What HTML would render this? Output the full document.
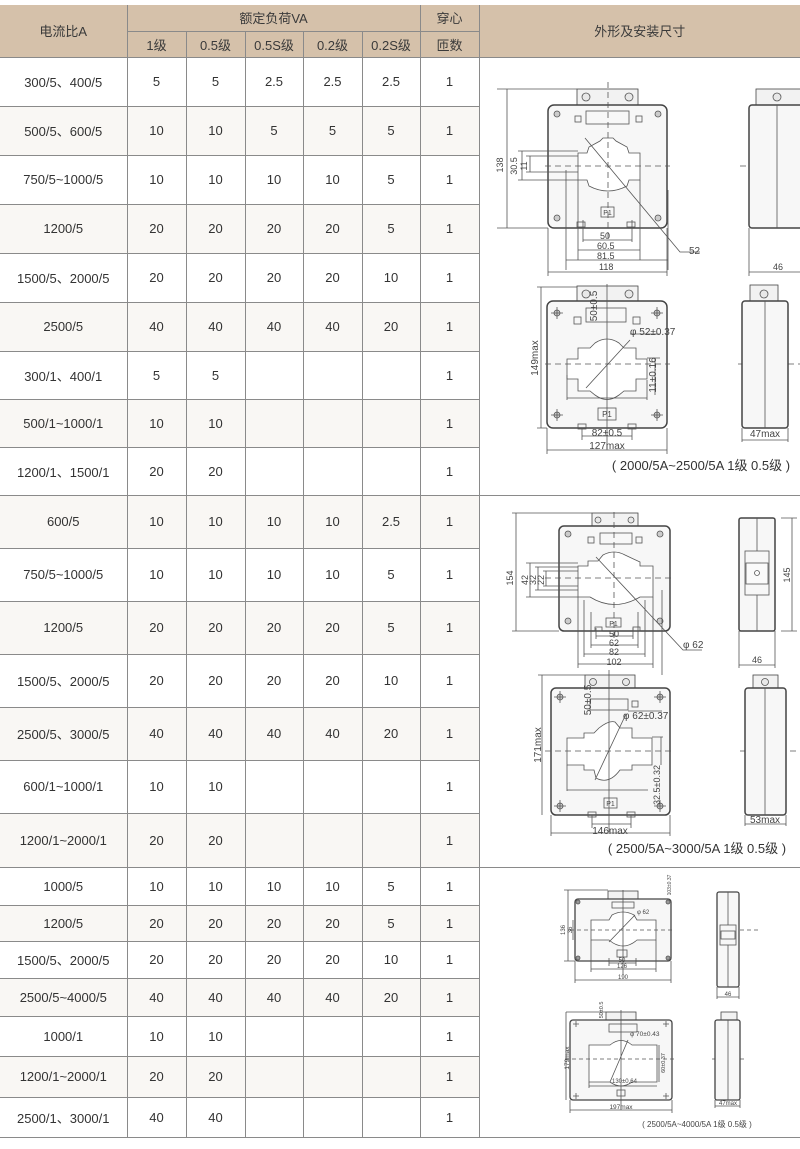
<!DOCTYPE html>
<html><head><meta charset="utf-8">
<style>
html,body{margin:0;padding:0;background:#fff;}
body{width:800px;height:1149px;position:relative;overflow:hidden;font-family:"Liberation Sans","Noto Sans CJK SC",sans-serif;color:#333;}
table{position:absolute;left:0;top:5px;border-collapse:collapse;table-layout:fixed;width:800px;font-size:13px;}
td{border:1px solid #8a8a8a;text-align:center;vertical-align:middle;padding:0;}
tr td:first-child{border-left:none;}
td.r{border-right:none;}
thead td{background:#d5c1aa;color:#3a3a3a;}
tbody tr:nth-child(even) td{background:#f9f7f4;}
tbody tr td.r{background:#fff !important;}
svg{position:absolute;left:0;top:0;}
</style></head><body>
<table>
<colgroup><col style="width:127px"><col style="width:59px"><col style="width:59px"><col style="width:58px"><col style="width:59px"><col style="width:58px"><col style="width:59px"><col style="width:321px"></colgroup>
<thead>
<tr style="height:26px"><td rowspan="2" style="border-top:none">电流比A</td><td colspan="5" style="border-top:none">额定负荷VA</td><td style="border-top:none">穿心</td><td rowspan="2" class="r" style="border-top:none;background:#d5c1aa">外形及安装尺寸</td></tr>
<tr style="height:26px"><td>1级</td><td>0.5级</td><td>0.5S级</td><td>0.2级</td><td>0.2S级</td><td>匝数</td></tr>
</thead>
<tbody>
<tr style="height:49px"><td>300/5、400/5</td><td>5</td><td>5</td><td>2.5</td><td>2.5</td><td>2.5</td><td>1</td><td rowspan="9" class="r"></td></tr>
<tr style="height:49px"><td>500/5、600/5</td><td>10</td><td>10</td><td>5</td><td>5</td><td>5</td><td>1</td></tr>
<tr style="height:49px"><td>750/5~1000/5</td><td>10</td><td>10</td><td>10</td><td>10</td><td>5</td><td>1</td></tr>
<tr style="height:49px"><td>1200/5</td><td>20</td><td>20</td><td>20</td><td>20</td><td>5</td><td>1</td></tr>
<tr style="height:49px"><td>1500/5、2000/5</td><td>20</td><td>20</td><td>20</td><td>20</td><td>10</td><td>1</td></tr>
<tr style="height:49px"><td>2500/5</td><td>40</td><td>40</td><td>40</td><td>40</td><td>20</td><td>1</td></tr>
<tr style="height:48px"><td>300/1、400/1</td><td>5</td><td>5</td><td></td><td></td><td></td><td>1</td></tr>
<tr style="height:48px"><td>500/1~1000/1</td><td>10</td><td>10</td><td></td><td></td><td></td><td>1</td></tr>
<tr style="height:48px"><td>1200/1、1500/1</td><td>20</td><td>20</td><td></td><td></td><td></td><td>1</td></tr>
<tr style="height:53px"><td>600/5</td><td>10</td><td>10</td><td>10</td><td>10</td><td>2.5</td><td>1</td><td rowspan="7" class="r"></td></tr>
<tr style="height:53px"><td>750/5~1000/5</td><td>10</td><td>10</td><td>10</td><td>10</td><td>5</td><td>1</td></tr>
<tr style="height:53px"><td>1200/5</td><td>20</td><td>20</td><td>20</td><td>20</td><td>5</td><td>1</td></tr>
<tr style="height:53px"><td>1500/5、2000/5</td><td>20</td><td>20</td><td>20</td><td>20</td><td>10</td><td>1</td></tr>
<tr style="height:53px"><td>2500/5、3000/5</td><td>40</td><td>40</td><td>40</td><td>40</td><td>20</td><td>1</td></tr>
<tr style="height:53px"><td>600/1~1000/1</td><td>10</td><td>10</td><td></td><td></td><td></td><td>1</td></tr>
<tr style="height:54px"><td>1200/1~2000/1</td><td>20</td><td>20</td><td></td><td></td><td></td><td>1</td></tr>
<tr style="height:38px"><td>1000/5</td><td>10</td><td>10</td><td>10</td><td>10</td><td>5</td><td>1</td><td rowspan="7" class="r"></td></tr>
<tr style="height:36px"><td>1200/5</td><td>20</td><td>20</td><td>20</td><td>20</td><td>5</td><td>1</td></tr>
<tr style="height:37px"><td>1500/5、2000/5</td><td>20</td><td>20</td><td>20</td><td>20</td><td>10</td><td>1</td></tr>
<tr style="height:38px"><td>2500/5~4000/5</td><td>40</td><td>40</td><td>40</td><td>40</td><td>20</td><td>1</td></tr>
<tr style="height:40px"><td>1000/1</td><td>10</td><td>10</td><td></td><td></td><td></td><td>1</td></tr>
<tr style="height:41px"><td>1200/1~2000/1</td><td>20</td><td>20</td><td></td><td></td><td></td><td>1</td></tr>
<tr style="height:40px"><td>2500/1、3000/1</td><td>40</td><td>40</td><td></td><td></td><td></td><td>1</td></tr>
</tbody>
</table>

<svg width="800" height="1149" viewBox="0 0 800 1149" font-family="Liberation Sans, Noto Sans CJK SC, sans-serif" fill="none" stroke="#555" stroke-width="0.8">
<!-- ===== Drawing 1 ===== -->
<g>
<rect x="577" y="89" width="61" height="16" fill="#f2f2f2" stroke="#444"/>
<circle cx="586" cy="97" r="4" fill="#e8e8e8"/><circle cx="629" cy="97" r="4" fill="#e8e8e8"/>
<rect x="548" y="105" width="119" height="123" rx="6" fill="#f7f7f7" stroke="#444" stroke-width="1.5"/>
<circle cx="557" cy="114" r="3" fill="#ccc"/><circle cx="658" cy="114" r="3" fill="#ccc"/><circle cx="557" cy="218" r="3" fill="#ccc"/><circle cx="658" cy="218" r="3" fill="#ccc"/>
<rect x="586" y="111" width="43" height="13"/>
<rect x="575" y="116" width="6" height="6"/><rect x="636" y="116" width="6" height="6"/>
<path d="M578,153 H587 L589,147 L600,141 L603,138 H613 L616,141 L627,147 L629,153 H640 V180 H629 L627,186 Q608,196 589,186 L587,180 H578 Z" fill="#fff"/>
<rect x="601" y="207" width="13" height="10"/>
<text x="607.5" y="215" font-size="7" fill="#444" stroke="none" text-anchor="middle">P1</text>
<rect x="577" y="222" width="8" height="5"/><rect x="627" y="222" width="8" height="5"/>
<path d="M608,82 V240 M545,166 H670 M740,166 H800" stroke-dasharray="6,4"/>
<path d="M497,89 H577 M497,228 H548 M507,89 V228 M518,151 H578 M518,180 H578 M526,156 H578 M526,172 H578 M522,151 V180 M530,156 V172"/>
<path d="M578,180 V260 M640,180 V260 M566,170 V270 M668,190 V270 M583,220 V242 M632,220 V242 M548,228 V276 M667,228 V276"/>
<path d="M583,240 H632 M578,250 H640 M566,260 H668 M548,272 H667"/>
<path d="M585,138 L680,252 H700"/>
<g fill="#444" stroke="none" font-size="9">
<text x="600" y="239">50</text><text x="597" y="249">60.5</text><text x="597" y="259">81.5</text><text x="599" y="270">118</text>
<text x="689" y="254" font-size="10">52</text>
<text transform="translate(503,165) rotate(-90)" text-anchor="middle">138</text>
<text transform="translate(517,166) rotate(-90)" text-anchor="middle">30.5</text>
<text transform="translate(527,166) rotate(-90)" text-anchor="middle">11</text>
</g>
<rect x="756" y="89" width="50" height="16" fill="#f2f2f2" stroke="#444"/>
<circle cx="777" cy="97" r="4" fill="#e8e8e8"/>
<rect x="749" y="105" width="60" height="123" rx="3" fill="#f7f7f7" stroke="#444" stroke-width="1.5"/>
<path d="M777,105 V228 M749,228 V276 M749,272 H800"/>
<text x="773" y="270" font-size="9" fill="#444" stroke="none">46</text>
</g>

<!-- ===== Drawing 2 ===== -->
<g>
<rect x="577" y="286" width="61" height="15" fill="#f2f2f2" stroke="#444"/>
<circle cx="586" cy="294" r="4" fill="#e8e8e8"/><circle cx="629" cy="294" r="4" fill="#e8e8e8"/>
<rect x="547" y="301" width="120" height="127" rx="6" fill="#f7f7f7" stroke="#444" stroke-width="1.5"/>
<g><circle cx="557" cy="313" r="3" fill="#ccc"/><circle cx="657" cy="313" r="3" fill="#ccc"/><circle cx="557" cy="415" r="3" fill="#ccc"/><circle cx="657" cy="415" r="3" fill="#ccc"/>
<path d="M551,313 H563 M557,307 V319 M651,313 H663 M657,307 V319 M551,415 H563 M557,409 V421 M651,415 H663 M657,409 V421"/></g>
<rect x="586" y="308" width="40" height="14"/>
<rect x="574" y="317" width="7" height="7"/><rect x="633" y="317" width="7" height="7"/>
<path d="M567,359 H578 V348 H590 L595,343 Q607,335 619,343 L624,348 H636 V359 H647 V379 H636 V391 H624 L619,395 Q607,404 595,395 L590,391 H578 V379 H567 Z" fill="#fff"/>
<path d="M607,284 V450"/>
<path d="M545,364 H670 M738,364 H800" stroke-dasharray="6,4"/>
<path d="M586,388 L630,340 M630,334 H660 M655,358 V395 M647,358 H660 M567,375 V400 M567,398 H647 M647,380 V400"/>
<rect x="598" y="408" width="18" height="12"/>
<text x="607" y="417" font-size="8" fill="#444" stroke="none" text-anchor="middle">P1</text>
<rect x="578" y="424" width="8" height="5"/><rect x="628" y="424" width="8" height="5"/>
<path d="M541,287 V428 M537,287 H577 M537,428 H547 M582,428 V440 M632,428 V440 M582,436 H632 M547,428 V454 M667,428 V454 M547,450 H667"/>
<g fill="#444" stroke="none" font-size="10">
<text x="607" y="436" text-anchor="middle">82±0.5</text>
<text x="607" y="449" text-anchor="middle">127max</text>
<text x="630" y="335">φ 52±0.37</text>
<text transform="translate(538,358) rotate(-90)" text-anchor="middle">149max</text>
<text transform="translate(597,306) rotate(-90)" text-anchor="middle">50±0.5</text>
<text transform="translate(656,375) rotate(-90)" text-anchor="middle">11±0.16</text>
</g>
<rect x="750" y="285" width="28" height="16" fill="#f2f2f2" stroke="#444"/>
<circle cx="764" cy="294" r="4" fill="#e8e8e8"/>
<rect x="742" y="301" width="46" height="127" rx="3" fill="#f7f7f7" stroke="#444" stroke-width="1.5"/>
<path d="M765,301 V428 M742,428 V442 M788,428 V442 M742,440 H788"/>
<text x="765" y="437" font-size="10" fill="#444" stroke="none" text-anchor="middle">47max</text>
<text x="701" y="470" font-size="13" fill="#333" stroke="none" text-anchor="middle">( 2000/5A~2500/5A 1级 0.5级 )</text>
</g>

<!-- ===== Drawing 3 ===== -->
<g>
<rect x="592" y="513" width="46" height="13" fill="#f2f2f2" stroke="#444"/>
<circle cx="598" cy="520" r="3" fill="#e8e8e8"/><circle cx="631" cy="520" r="3" fill="#e8e8e8"/>
<rect x="559" y="526" width="111" height="105" rx="5" fill="#f7f7f7" stroke="#444" stroke-width="1.5"/>
<circle cx="568" cy="534" r="3" fill="#ccc"/><circle cx="660" cy="534" r="3" fill="#ccc"/><circle cx="568" cy="621" r="3" fill="#ccc"/><circle cx="660" cy="621" r="3" fill="#ccc"/>
<rect x="600" y="533" width="32" height="11"/>
<rect x="588" y="537" width="6" height="6"/><rect x="636" y="537" width="6" height="6"/>
<path d="M578,566 H588 V561 H598 L603,555 Q614,549 625,555 L640,562 V566 H653 V597 H640 Q614,612 590,597 H578 Z" fill="#fff"/>
<path d="M614,512 V640 M545,578 H675" stroke-dasharray="6,4"/>
<rect x="606" y="618" width="15" height="9"/>
<text x="613.5" y="626" font-size="7" fill="#444" stroke="none" text-anchor="middle">P1</text>
<rect x="595" y="627" width="7" height="4"/><rect x="633" y="627" width="7" height="4"/>
<path d="M512,513 H592 M512,631 H559 M516,513 V631 M526,563 H578 M526,597 H578 M535,567 H578 M535,590 H578 M543,571 H578 M543,586 H578 M530,563 V597 M538,567 V590 M546,571 V586"/>
<path d="M578,597 V668 M653,597 V668 M584,600 V657 M645,600 V657 M591,612 V648 M638,612 V648 M596,628 V639 M633,628 V639 M662,590 V675"/>
<path d="M596,636 H633 M591,645 H638 M584,654 H645 M578,664 H653 M596,557 L683,650 H702"/>
<g fill="#444" stroke="none" font-size="9">
<text x="614" y="637" text-anchor="middle">50</text><text x="614" y="646" text-anchor="middle">62</text><text x="614" y="655" text-anchor="middle">82</text><text x="614" y="665" text-anchor="middle">102</text>
<text x="683" y="648" font-size="10">φ 62</text>
<text transform="translate(513,578) rotate(-90)" text-anchor="middle">154</text>
<text transform="translate(528,580) rotate(-90)" text-anchor="middle">42</text>
<text transform="translate(536,580) rotate(-90)" text-anchor="middle">32</text>
<text transform="translate(544,580) rotate(-90)" text-anchor="middle">22</text>
</g>
<rect x="739" y="518" width="36" height="113" rx="2" fill="#f7f7f7" stroke="#444" stroke-width="1.5"/>
<path d="M757,518 V631"/>
<rect x="745" y="551" width="24" height="44" fill="#f7f7f7"/>
<rect x="746" y="563" width="22" height="21" fill="#fafafa"/>
<circle cx="757" cy="573" r="2.5"/>
<path d="M781,518 H797 M781,631 H797 M792,518 V631 M739,631 V668 M775,631 V668 M739,665 H775"/>
<g fill="#444" stroke="none" font-size="9">
<text x="757" y="663" text-anchor="middle">46</text>
<text transform="translate(790,575) rotate(-90)" text-anchor="middle">145</text>
</g>
</g>

<!-- ===== Drawing 4 ===== -->
<g>
<rect x="585" y="675" width="50" height="13" fill="#f2f2f2" stroke="#444"/>
<circle cx="593" cy="682" r="3.5" fill="#e8e8e8"/><circle cx="626" cy="682" r="3.5" fill="#e8e8e8"/>
<rect x="551" y="688" width="119" height="127" rx="5" fill="#f7f7f7" stroke="#444" stroke-width="1.5"/>
<g><circle cx="560" cy="697" r="3" fill="#ccc"/><circle cx="660" cy="697" r="3" fill="#ccc"/><circle cx="560" cy="806" r="3" fill="#ccc"/><circle cx="660" cy="806" r="3" fill="#ccc"/>
<path d="M554,697 H566 M560,691 V703 M654,697 H666 M660,691 V703 M554,806 H566 M560,800 V812 M654,806 H666 M660,800 V812"/></g>
<rect x="590" y="699" width="38" height="11"/>
<rect x="632" y="701" width="6" height="6"/>
<path d="M567,738 H584 V733 H594 L599,728 Q609,720 615,722 L620,728 H632 V738 H652 V765 H632 V770 H620 Q609,785 596,778 L594,770 H584 V765 H567 Z" fill="#fff"/>
<path d="M609,670 V832"/>
<path d="M545,751 H672 M740,751 H800" stroke-dasharray="6,4"/>
<path d="M595,780 L626,714 M628,711 H662 M661,737 V765 M652,737 H663 M567,765 V791 M567,790 H648"/>
<rect x="604" y="798" width="13" height="10"/>
<text x="610.5" y="806" font-size="7" fill="#444" stroke="none" text-anchor="middle">P1</text>
<rect x="588" y="812" width="8" height="5"/><rect x="627" y="812" width="8" height="5"/>
<path d="M542,675 V815 M538,675 H585 M592,815 V828 M631,815 V828 M592,824 H631 M551,815 V836 M670,815 V836 M551,833 H670"/>
<g fill="#444" stroke="none" font-size="10">
<text x="610" y="834" text-anchor="middle">146max</text>
<text x="623" y="719">φ 62±0.37</text>
<text transform="translate(541,745) rotate(-90)" text-anchor="middle">171max</text>
<text transform="translate(591,700) rotate(-90)" text-anchor="middle">50±0.5</text>
<text transform="translate(660,785) rotate(-90)" text-anchor="middle" font-size="9">32.5±0.32</text>
</g>
<rect x="753" y="675" width="25" height="13" fill="#f2f2f2" stroke="#444"/>
<circle cx="765" cy="682" r="3.5" fill="#e8e8e8"/>
<rect x="745" y="688" width="41" height="127" rx="3" fill="#f7f7f7" stroke="#444" stroke-width="1.5"/>
<path d="M765,688 V815 M745,815 V826 M786,815 V826 M745,824 H786"/>
<text x="765" y="823" font-size="10" fill="#444" stroke="none" text-anchor="middle">53max</text>
<text x="697" y="853" font-size="13" fill="#333" stroke="none" text-anchor="middle">( 2500/5A~3000/5A 1级 0.5级 )</text>
</g>

<!-- ===== Drawing 5 ===== -->
<g>
<rect x="608" y="891" width="30" height="8" fill="#f2f2f2" stroke="#444"/>
<rect x="575" y="899" width="96" height="62" rx="3" fill="#f7f7f7" stroke="#444" stroke-width="1.3"/>
<circle cx="578" cy="902" r="2" fill="#999"/><circle cx="668" cy="902" r="2" fill="#999"/><circle cx="578" cy="958" r="2" fill="#999"/><circle cx="668" cy="958" r="2" fill="#999"/>
<rect x="612" y="902" width="22" height="6"/>
<path d="M591,920 H609 L612,915 Q623,909 634,915 L637,920 H656 V940 H637 Q623,952 609,940 H591 Z" fill="#fff"/>
<path d="M570,930 H672 M740,930 H760" stroke-dasharray="4,3"/>
<path d="M623,890 V975 M609,942 L635,915"/>
<rect x="617" y="950" width="10" height="7"/>
<path d="M568,890 V961 M564,890 H608 M564,961 H575 M573,920 V940 M609,958 V966 M636,958 V966 M609,963 H636 M591,940 V972 M656,940 V972 M591,969 H656 M575,961 V983 M671,961 V983 M575,980 H671"/>
<g fill="#444" stroke="none" font-size="6">
<text x="622" y="962" text-anchor="middle">50</text><text x="622" y="968" text-anchor="middle">126</text><text x="623" y="979" text-anchor="middle">190</text>
<text x="637" y="914">φ 62</text>
<text transform="translate(565,930) rotate(-90)" text-anchor="middle">136</text>
<text transform="translate(572,930) rotate(-90)" text-anchor="middle">36</text>
<text transform="translate(671,885) rotate(-90)" text-anchor="middle" font-size="5">103±0.37</text>
</g>
<rect x="717" y="892" width="22" height="95" rx="2" fill="#f7f7f7" stroke="#444" stroke-width="1.3"/>
<path d="M728,892 V987"/>
<rect x="720" y="925" width="16" height="20" fill="#f7f7f7"/>
<rect x="721" y="931" width="14" height="8"/>
<path d="M717,987 V999 M739,987 V999 M717,997 H739"/>
<text x="728" y="996" font-size="6" fill="#444" stroke="none" text-anchor="middle">46</text>
</g>

<!-- ===== Drawing 6 ===== -->
<g>
<rect x="606" y="1012" width="30" height="8" fill="#f2f2f2" stroke="#444"/>
<rect x="570" y="1020" width="102" height="80" rx="3" fill="#f7f7f7" stroke="#444" stroke-width="1.3"/>
<path d="M573,1024 H579 M576,1021 V1027 M663,1024 H669 M666,1021 V1027 M573,1096 H579 M576,1093 V1099 M663,1096 H669 M666,1093 V1099"/>
<rect x="609" y="1024" width="28" height="8"/>
<path d="M589,1045 H610 Q621,1036 632,1045 H657 V1082 H632 Q621,1090 610,1082 H589 Z" fill="#fff"/>
<path d="M565,1059 H675 M712,1059 H745" stroke-dasharray="4,3"/>
<path d="M621,1010 V1110 M610,1082 L628,1040 M659,1045 V1082 M589,1082 V1088 M589,1086 H657"/>
<rect x="617" y="1090" width="8" height="6"/>
<path d="M566,1012 V1100 M566,1012 H606 M570,1100 V1113 M672,1100 V1113 M570,1110 H672"/>
<g fill="#444" stroke="none" font-size="6.5">
<text x="630" y="1036">φ 70±0.43</text>
<text x="612" y="1083" font-size="6">130±0.64</text>
<text x="621" y="1109" text-anchor="middle">197max</text>
<text transform="translate(569,1058) rotate(-90)" text-anchor="middle">179max</text>
<text transform="translate(603,1010) rotate(-90)" text-anchor="middle" font-size="5.5">50±0.5</text>
<text transform="translate(665,1063) rotate(-90)" text-anchor="middle" font-size="5.5">60±0.37</text>
</g>
<rect x="721" y="1012" width="16" height="8" fill="#f2f2f2" stroke="#444"/>
<rect x="715" y="1020" width="25" height="80" rx="2" fill="#f7f7f7" stroke="#444" stroke-width="1.3"/>
<path d="M728,1020 V1100 M715,1100 V1108 M740,1100 V1108 M715,1106 H740"/>
<text x="728" y="1105" font-size="6" fill="#444" stroke="none" text-anchor="middle">47max</text>
<text x="697" y="1127" font-size="8" fill="#444" stroke="none" text-anchor="middle">( 2500/5A~4000/5A 1级 0.5级 )</text>
</g>
</svg>
</body></html>
